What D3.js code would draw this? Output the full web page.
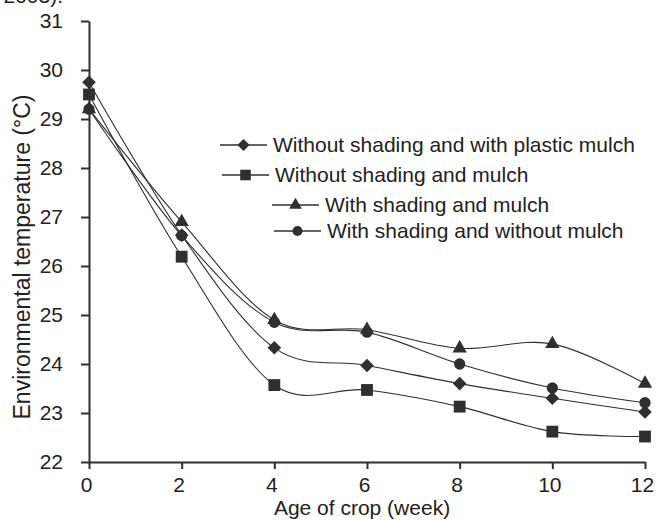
<!DOCTYPE html>
<html>
<head>
<meta charset="utf-8">
<script src="https://cdn.jsdelivr.net/npm/d3@7"></script>
<style>
  body { margin: 0; background: #fff; }
  svg { display: block; font-family: "Liberation Sans", Arial, sans-serif; }
</style>
</head>
<body>
<script>
// Age of crop (week) and temperature per treatment.
const weeks = [0, 2, 4, 6, 8, 10, 12];
const plasticMulch = [29.75, 26.63, 24.33, 23.97, 23.6, 23.3, 23.02];
const noShadeNoMulch = [29.5, 26.19, 23.57, 23.47, 23.13, 22.62, 22.52];
const shadeMulch = [29.2, 26.9, 24.9, 24.7, 24.32, 24.41, 23.6];
const shadeNoMulch = [29.2, 26.62, 24.85, 24.65, 24.0, 23.51, 23.21];
const seriesNames = [
  "Without shading and with plastic mulch",
  "Without shading and mulch",
  "With shading and mulch",
  "With shading and without mulch"
];
const xTicks = [0, 2, 4, 6, 8, 10, 12];
const yTicks = [22, 23, 24, 25, 26, 27, 28, 29, 30, 31];

const width = 657, height = 520;
const margin = { left: 89, right: 12, top: 21, bottom: 58 };
const ink = "#2f2f2f";
const textInk = "#222";

const svg = d3.select("body").append("svg")
  .attr("width", width)
  .attr("height", height);

const x = d3.scaleLinear().domain([0, 12]).range([margin.left, width - margin.right]);
const y = d3.scaleLinear().domain([22, 31]).range([height - margin.bottom, margin.top]);

// Clipped caption left over from the page above the figure.
svg.append("text")
  .attr("x", 63).attr("y", 3)
  .attr("text-anchor", "end")
  .attr("font-size", 21)
  .attr("fill", textInk)
  .text("2003).");

// Axes
const xAxis = svg.append("g")
  .attr("transform", `translate(0,${y(22)})`)
  .call(d3.axisBottom(x).tickValues(xTicks).tickSize(7).tickPadding(8).tickSizeOuter(0));
const yAxis = svg.append("g")
  .attr("transform", `translate(${x(0)},0)`)
  .call(d3.axisLeft(y).tickValues(yTicks).tickSize(8).tickPadding(18).tickSizeOuter(0));

[xAxis, yAxis].forEach((ax) => {
  ax.select(".domain").attr("stroke", ink).attr("stroke-width", 2);
  ax.selectAll(".tick line").attr("stroke", ink).attr("stroke-width", 2);
  ax.selectAll(".tick text")
    .attr("font-size", 21)
    .attr("fill", textInk)
    .attr("font-family", "'Liberation Sans', Arial, sans-serif");
});
// the week labels sit a little left of their ticks in the original
xAxis.selectAll(".tick text").attr("dx", -3);

svg.append("text")
  .attr("x", 362)
  .attr("y", 515)
  .attr("text-anchor", "middle")
  .attr("font-size", 21)
  .attr("fill", textInk)
  .text("Age of crop (week)");

svg.append("text")
  .attr("transform", "translate(30,257) rotate(-90)")
  .attr("text-anchor", "middle")
  .attr("font-size", 23)
  .attr("fill", textInk)
  .text("Environmental temperature (\u00b0C)");

// Marker shapes
const shapes = [
  { type: d3.symbolSquare, size: 92, rotate: 45 },
  { type: d3.symbolSquare, size: 140, rotate: 0 },
  { type: d3.symbolTriangle, size: 88, rotate: 0 },
  { type: d3.symbolCircle, size: 100, rotate: 0 }
];

const allSeries = [plasticMulch, noShadeNoMulch, shadeMulch, shadeNoMulch];

const line = d3.line()
  .x((d) => x(d[0]))
  .y((d) => y(d[1]))
  .curve(d3.curveCardinal.tension(0));

const plot = svg.append("g");

allSeries.forEach((vals) => {
  plot.append("path")
    .datum(weeks.map((w, i) => [w, vals[i]]))
    .attr("fill", "none")
    .attr("stroke", ink)
    .attr("stroke-width", 1.1)
    .attr("d", line);
});

allSeries.forEach((vals, s) => {
  const shp = shapes[s];
  plot.selectAll(null)
    .data(weeks.map((w, i) => [w, vals[i]]))
    .enter()
    .append("path")
    .attr("transform", (d) => `translate(${x(d[0])},${y(d[1])}) rotate(${shp.rotate})`)
    .attr("d", d3.symbol().type(shp.type).size(shp.size))
    .attr("fill", ink);
});

// Legend (entries are staggered in the original)
const legendPos = [
  { x: 220, y: 145 },
  { x: 222, y: 175 },
  { x: 272, y: 205 },
  { x: 274, y: 231 }
];

const legend = svg.append("g");
seriesNames.forEach((name, s) => {
  const p = legendPos[s];
  const shp = shapes[s];
  const g = legend.append("g").attr("transform", `translate(${p.x},${p.y})`);
  g.append("line")
    .attr("x1", 0).attr("x2", 47)
    .attr("stroke", ink).attr("stroke-width", 1.3);
  g.append("path")
    .attr("transform", `translate(23.5,0) rotate(${shp.rotate})`)
    .attr("d", d3.symbol().type(shp.type).size(shp.size * 0.8))
    .attr("fill", ink);
  g.append("text")
    .attr("x", 53)
    .attr("dy", "0.35em")
    .attr("font-size", 21)
    .attr("fill", textInk)
    .text(name);
});
</script>
</body>
</html>
